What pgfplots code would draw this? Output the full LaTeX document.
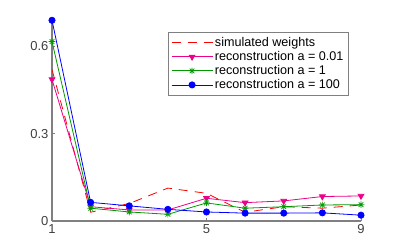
\documentclass[border=0pt]{standalone}
\usepackage{fontspec}
\setmainfont{Liberation Sans}
\usepackage{pgfplots}
\pgfplotsset{compat=1.18}
\definecolor{mgreen}{rgb}{0,0.6,0}
\definecolor{axgray}{gray}{0.5}
\pgfdeclareplotmark{matstar}{%
  \pgfpathmoveto{\pgfqpoint{-\pgfplotmarksize}{0pt}}\pgfpathlineto{\pgfqpoint{\pgfplotmarksize}{0pt}}%
  \pgfpathmoveto{\pgfqpoint{0pt}{-\pgfplotmarksize}}\pgfpathlineto{\pgfqpoint{0pt}{\pgfplotmarksize}}%
  \pgfpathmoveto{\pgfqpoint{-0.707\pgfplotmarksize}{-0.707\pgfplotmarksize}}\pgfpathlineto{\pgfqpoint{0.707\pgfplotmarksize}{0.707\pgfplotmarksize}}%
  \pgfpathmoveto{\pgfqpoint{-0.707\pgfplotmarksize}{0.707\pgfplotmarksize}}\pgfpathlineto{\pgfqpoint{0.707\pgfplotmarksize}{-0.707\pgfplotmarksize}}%
  \pgfusepathqstroke}
\begin{document}
\begin{tikzpicture}
\useasboundingbox (-52pt,-29pt) rectangle (348pt,221pt);
\begin{axis}[
  at={(0,0)}, anchor=south west,
  scale only axis, width=309pt, height=201pt,
  xmin=1, xmax=9, ymin=0, ymax=0.69,
  axis x line*=bottom, axis y line*=left,
  axis line style={-, axgray, line width=1.2pt},
  xtick={1,5,9}, ytick={0,0.3,0.6},
  yticklabels={0,0.3,0.6},
  tick align=inside, major tick length=3pt,
  tick style={axgray, line width=0.8pt},
  tick label style={font=\fontsize{13}{14}\selectfont, text=black!75},
  /pgf/number format/assume math mode=true,
  legend style={at={(rel axis cs:1,1)}, anchor=north east, xshift=-12pt, yshift=-12pt,
    draw=axgray, line width=1pt, fill=white, font=\fontsize{12.6}{14}\selectfont,
    row sep=-0.6pt, inner xsep=3pt, inner ysep=3pt,
    nodes={inner xsep=2pt}},
  legend cell align=left,
  legend image code/.code={\draw[#1] (0pt,0pt) -- (41pt,0pt); \draw[#1, only marks] plot coordinates {(20.5pt,0pt)};},
]
\addplot[red, dashed, dash pattern=on 9pt off 7pt, line width=0.8pt] coordinates {
(1,0.52) (2,0.03) (3,0.06) (4,0.113) (5,0.095) (6,0.03) (7,0.049) (8,0.044) (9,0.055)};
\addlegendentry{simulated weights}
\addplot[magenta, line width=0.8pt, mark=triangle*, mark size=3.3pt, mark options={rotate=180, solid}] coordinates {
(1,0.486) (2,0.049) (3,0.038) (4,0.038) (5,0.078) (6,0.063) (7,0.069) (8,0.084) (9,0.086)};
\addlegendentry{reconstruction a = 0.01}
\addplot[mgreen, line width=0.8pt, mark=matstar, mark size=3.3pt, mark options={solid, line width=0.7pt}] coordinates {
(1,0.616) (2,0.044) (3,0.031) (4,0.023) (5,0.062) (6,0.044) (7,0.049) (8,0.055) (9,0.056)};
\addlegendentry{reconstruction a = 1}
\addplot[blue, line width=0.8pt, mark=*, mark size=3.1pt, mark options={solid}] coordinates {
(1,0.689) (2,0.064) (3,0.052) (4,0.040) (5,0.031) (6,0.027) (7,0.027) (8,0.028) (9,0.020)};
\addlegendentry{reconstruction a = 100}
\end{axis}
\end{tikzpicture}
\end{document}
